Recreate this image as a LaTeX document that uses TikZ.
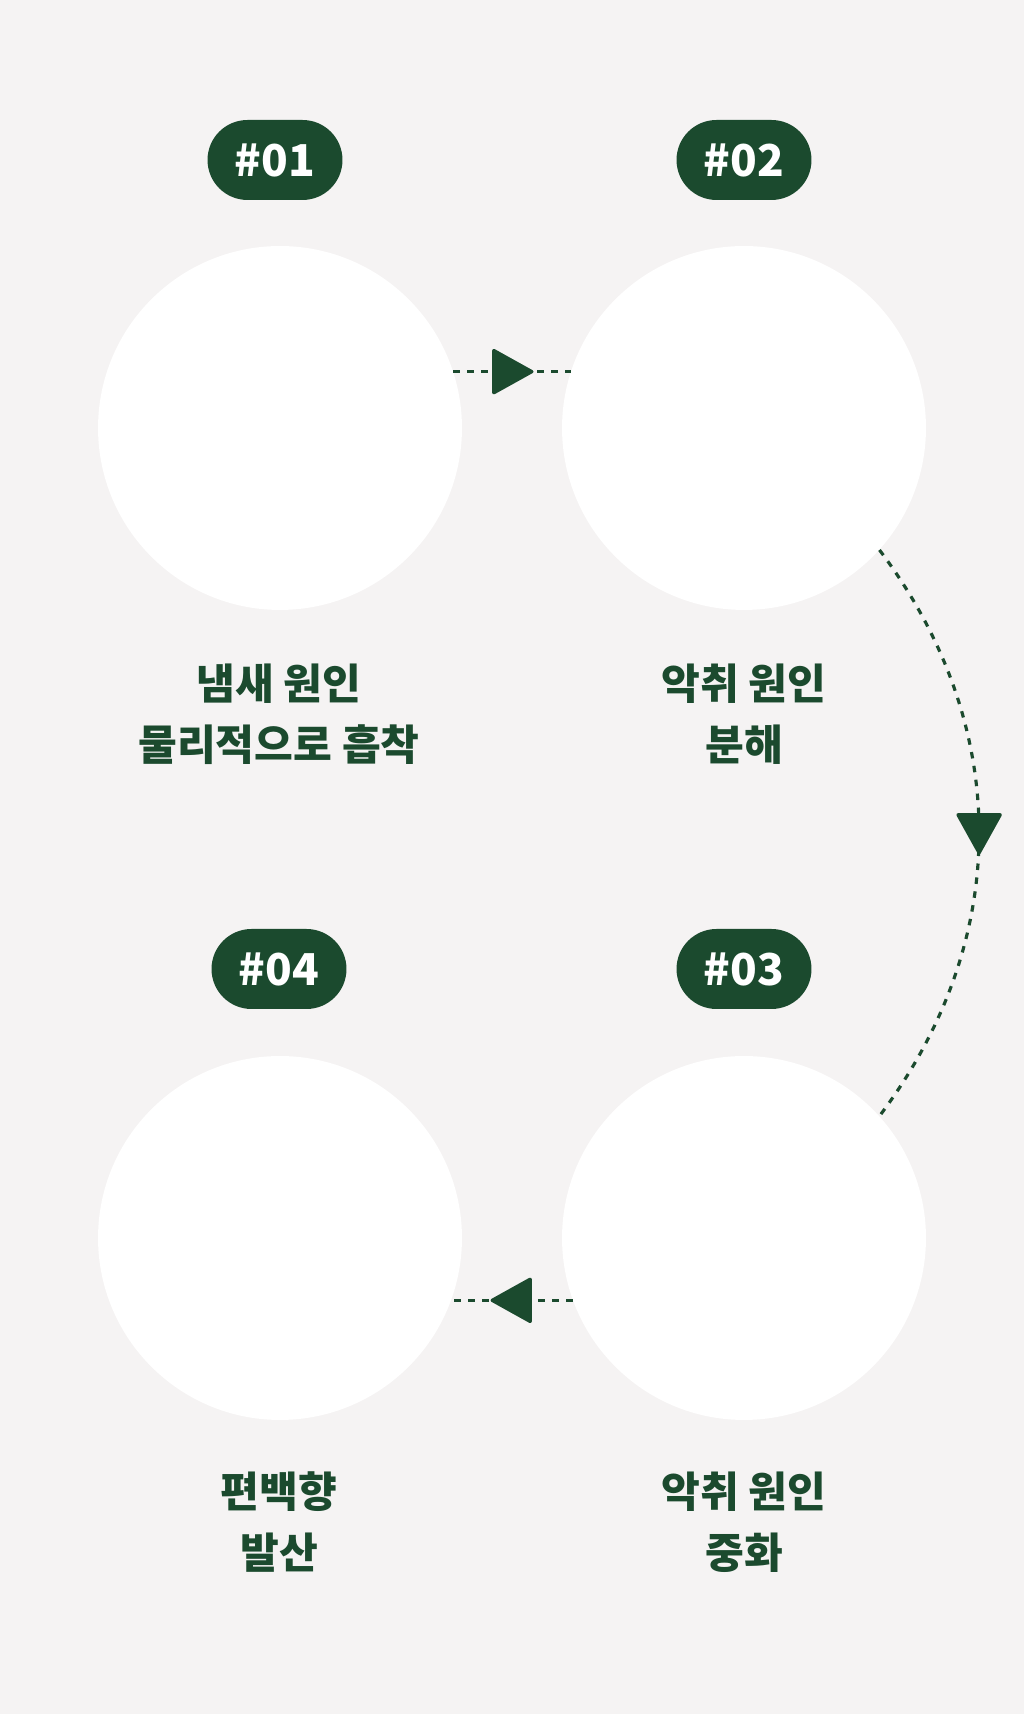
\documentclass[tikz,border=0pt]{standalone}
\usepackage{fontspec}
\setmainfont{Noto Sans CJK KR}
\usetikzlibrary{arrows.meta, decorations.markings}
\definecolor{pine}{RGB}{27,74,46}
\definecolor{paper}{RGB}{245,243,243}

\begin{document}
\begin{tikzpicture}[x=0.02cm, y=0.02cm,
    disc/.style={circle, fill=white, minimum size=7.28cm, inner sep=0pt},
    badge/.style={fill=pine, text=white, rounded corners=0.8cm, minimum width=2.7cm,
      minimum height=1.6cm, inner sep=0pt, font=\fontsize{25}{25}\selectfont\bfseries},
    caption/.style={text=pine, align=center, font=\fontsize{24}{34.7}\selectfont\bfseries},
    flow/.style={pine, line width=1.8pt, dash pattern=on 0.13cm off 0.15cm,
      decoration={markings, mark=at position #1 with
        {\arrow[xshift=0.43cm]{Triangle[length=0.86cm, width=0.94cm, round]}}},
      postaction={decorate}},
    flow/.default=0.5]
        % fond
        \fill[paper] (0,0) rectangle (1024,1714);

        % cercles
        \node[disc] (c1) at (280,1286) {};
        \node[disc] (c2) at (744,1286) {};
        \node[disc] (c3) at (744,476) {};
        \node[disc] (c4) at (280,476) {};

        % étiquettes
        \node[badge] (b1) at (275,1554) {\#01};
        \node[badge] (b2) at (744,1554) {\#02};
        \node[badge] (b3) at (744,745) {\#03};
        \node[badge] (b4) at (279,745) {\#04};

        % textes
        \node[caption] (t1) at (279,1000) {냄새 원인\\물리적으로 흡착};
        \node[caption] (t2) at (744,1000) {악취 원인\\분해};
        \node[caption] (t3) at (744,192) {악취 원인\\중화};
        \node[caption] (t4) at (279,192) {편백향\\발산};

        % flèches
        \draw[flow] (c1.18) -- (c2.162);
        \draw[flow=0.5] (c2.-42) to[bend left=37] (c3.42);
        \draw[flow] (c3.-160) -- (c4.-20);
      \end{tikzpicture}
\end{document}
